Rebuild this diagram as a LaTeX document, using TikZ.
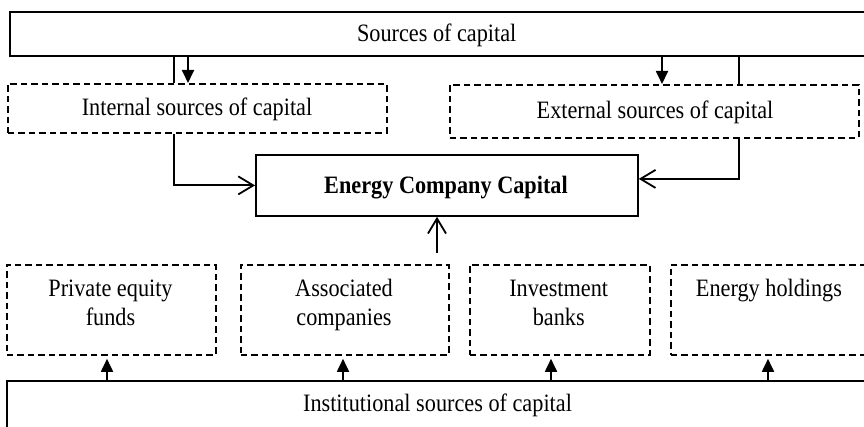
\documentclass[tikz,border=0pt]{standalone}
\usepackage{fontspec}
\setmainfont[FakeStretch=0.89]{Liberation Serif}
\usetikzlibrary{arrows.meta}
\begin{document}
\begin{tikzpicture}[x=1pt,y=-1pt,
  solidbox/.style={draw, line width=2pt, inner sep=0pt, anchor=north west},
  dashbox/.style={draw, line width=1.8pt, dash pattern=on 6.5pt off 4pt, inner sep=0pt, anchor=north west},
  lbl/.style={font=\fontsize{25}{29}\selectfont, align=center, inner sep=0pt},
  tri/.style={-{Triangle[length=13pt,width=12pt]}, line width=1.8pt},
  barb/.style={-{Straight Barb[length=15pt,width=18pt]}, line width=1.8pt},
  plain/.style={line width=1.8pt}]
\useasboundingbox (0,0) rectangle (864,427);
\clip (0,0) rectangle (864,427);
\fill[white] (0,0) rectangle (864,427);

% boxes
\node[solidbox, minimum width=862pt, minimum height=44pt] (top) at (9,11) {};
\node[dashbox, minimum width=379pt, minimum height=49pt] (int) at (7,83) {};
\node[dashbox, minimum width=409pt, minimum height=53pt] (ext) at (449,84) {};
\node[solidbox, line width=1.8pt, minimum width=382pt, minimum height=61pt] (en) at (255,154) {};
\node[dashbox, minimum width=209pt, minimum height=90pt] (pe) at (6,264) {};
\node[dashbox, minimum width=208pt, minimum height=90pt] (ac) at (240,264) {};
\node[dashbox, minimum width=180pt, minimum height=90pt] (ib) at (469,264) {};
\node[dashbox, minimum width=205pt, minimum height=90pt] (eh) at (670,264) {};
\node[solidbox, minimum width=870pt, minimum height=80pt] (inst) at (6,380) {};

% texts
\node[lbl] (topT) at (436.7,36.2) {\strut Sources of capital};
\node[lbl] (intT) at (197,110.2) {\strut Internal sources of capital};
\node[lbl] (extT) at (655,112.5) {\strut External sources of capital};
\node[lbl, font=\fontsize{25}{29}\selectfont\bfseries] (enT) at (446,188.2) {\strut Energy Company Capital};
\node[lbl] (peT) at (110.5,305.7) {\strut Private equity\\\strut funds};
\node[lbl] (acT) at (344,305.7) {\strut Associated\\\strut companies};
\node[lbl] (ibT) at (558.7,305.7) {\strut Investment\\\strut banks};
\node[lbl] (ehT) at (769,291.2) {\strut Energy holdings};
\node[lbl] (instT) at (437.5,405.2) {\strut Institutional sources of capital};

% connectors from top
\draw[plain] (174,0 |- top.south) -- (174,0 |- int.north);
\draw[tri] (188,0 |- top.south) -- (188,0 |- int.north);
\draw[tri] (662,0 |- top.south) -- (662,0 |- ext.north);
\draw[plain] (739,0 |- top.south) -- (739,0 |- ext.north);

% into energy company capital
\draw[barb] (174,0 |- int.south) |- (en.west);
\draw[barb] (739,0 |- ext.south) |- ([yshift=6.5pt]en.east);
\coordinate (up) at (437,253);
\draw[barb] (up) -- (up |- en.south);

% from institutional
\draw[tri, shorten >=3pt] (107,0 |- inst.north) -- (107,0 |- pe.south);
\draw[tri, shorten >=3pt] (343,0 |- inst.north) -- (343,0 |- ac.south);
\draw[tri, shorten >=3pt] (551,0 |- inst.north) -- (551,0 |- ib.south);
\draw[tri, shorten >=3pt] (768,0 |- inst.north) -- (768,0 |- eh.south);
\end{tikzpicture}
\end{document}
